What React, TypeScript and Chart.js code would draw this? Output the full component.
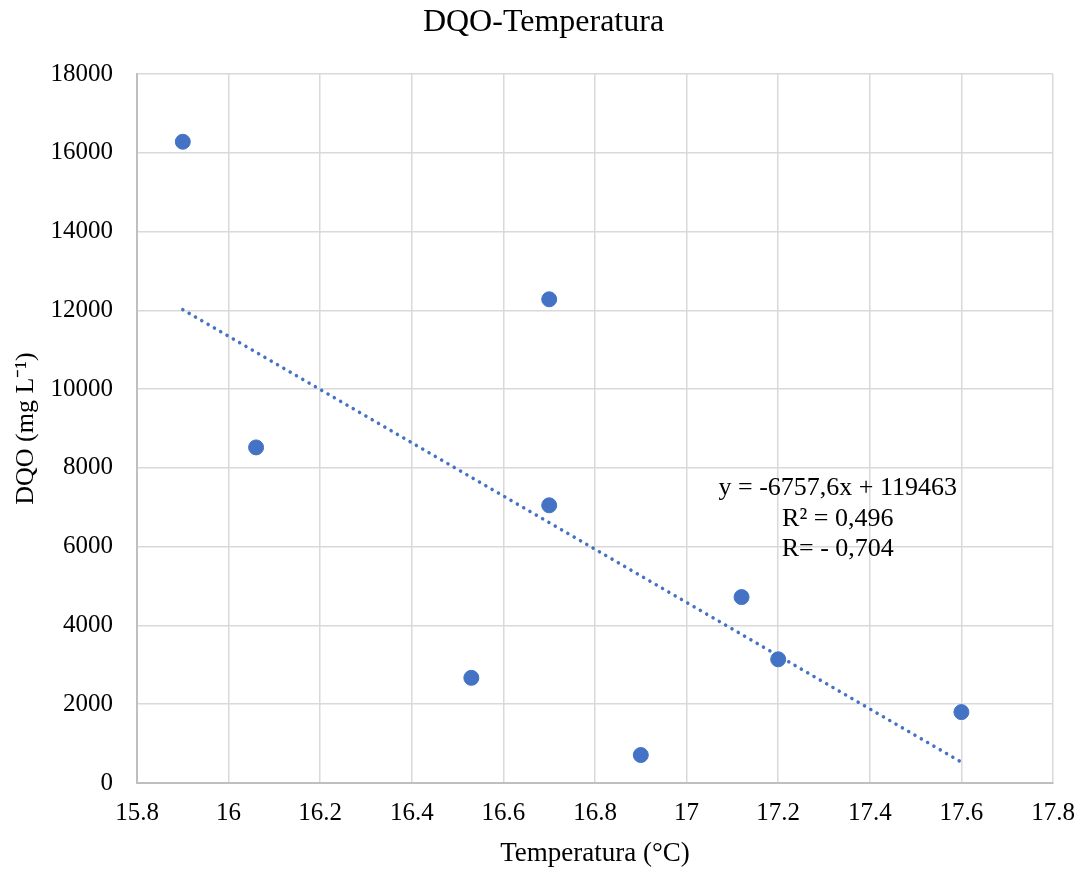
import React, { useEffect, useRef } from "react";
import { Chart, registerables } from "chart.js";

Chart.register(...registerables);

const temperatures = [15.9, 16.06, 16.53, 16.7, 16.7, 16.9, 17.12, 17.2, 17.6];
const dqoValues = [16280, 8520, 2670, 12280, 7050, 710, 4720, 3140, 1800];
const trendX = [15.9, 17.6];
const slope = -6757.6;
const intercept = 119463;
const annotationLines = ["y = -6757,6x + 119463", "R² = 0,496", "R= - 0,704"];
const annotationAnchor = { x: 17.33, y: 7490, stepY: 780 };

const FONT = "'Liberation Serif', 'Times New Roman', serif";

export default function App() {
  const ref = useRef<HTMLCanvasElement | null>(null);

  useEffect(() => {
    document.body.style.margin = "0";
    const canvas = ref.current;
    if (!canvas) return;

    const annotationPlugin = {
      id: "trendAnnotation",
      afterDatasetsDraw(chart: any) {
        const ctx = chart.ctx;
        const xs = chart.scales.x;
        const ys = chart.scales.y;
        ctx.save();
        ctx.font = `26px ${FONT}`;
        ctx.fillStyle = "#000";
        ctx.textAlign = "center";
        ctx.textBaseline = "middle";
        annotationLines.forEach((line, i) => {
          const px = xs.getPixelForValue(annotationAnchor.x);
          const py = ys.getPixelForValue(annotationAnchor.y - i * annotationAnchor.stepY);
          ctx.fillText(line, px, py);
        });
        ctx.restore();
      },
    };

    const chart = new Chart(canvas, {
      type: "scatter",
      data: {
        datasets: [
          {
            type: "line",
            label: "trend",
            data: trendX.map((x) => ({ x, y: slope * x + intercept })),
            borderColor: "#4472C4",
            borderWidth: 3.5,
            borderDash: [0.1, 7.2],
            borderCapStyle: "round",
            pointRadius: 0,
            fill: false,
          } as any,
          {
            label: "DQO",
            data: temperatures.map((x, i) => ({ x, y: dqoValues[i] })),
            backgroundColor: "#4472C4",
            borderColor: "#4472C4",
            pointRadius: 7.5,
            pointHoverRadius: 7.5,
          },
        ],
      },
      options: {
        animation: false,
        responsive: false,
        layout: { padding: 0 },
        plugins: {
          legend: { display: false },
          tooltip: { enabled: false },
          title: {
            display: true,
            text: "DQO-Temperatura",
            color: "#000",
            font: { family: FONT, size: 32, weight: "normal" },
            padding: { top: 3, bottom: 32.6 },
          },
        },
        scales: {
          x: {
            type: "linear",
            min: 15.8,
            max: 17.8,
            ticks: {
              stepSize: 0.2,
              color: "#000",
              font: { family: FONT, size: 25 },
              padding: 15,
              callback: (v: any) => String(Math.round(Number(v) * 10) / 10),
            },
            grid: { color: "#d9d9d9", lineWidth: 1.5, drawTicks: false },
            border: { color: "#bfbfbf", width: 2 },
            title: {
              display: true,
              text: "Temperatura (°C)",
              color: "#000",
              font: { family: FONT, size: 27 },
              padding: { top: 0, bottom: 0 },
            },
            afterFit: (scale: any) => {
              scale.height = 87;
              scale.paddingRight = 34;
              scale.paddingLeft = 0;
            },
          },
          y: {
            min: 0,
            max: 18000,
            ticks: {
              stepSize: 2000,
              color: "#000",
              font: { family: FONT, size: 25 },
              padding: 24,
              callback: (v: any) => String(v),
            },
            grid: { color: "#d9d9d9", lineWidth: 1.5, drawTicks: false },
            border: { color: "#bfbfbf", width: 2 },
            title: {
              display: true,
              text: "DQO (mg L⁻¹)",
              color: "#000",
              font: { family: FONT, size: 26 },
              padding: { top: 11, bottom: 0 },
            },
            afterFit: (scale: any) => {
              scale.width = 137;
              scale.paddingTop = 0;
              scale.paddingBottom = 0;
            },
          },
        },
      },
      plugins: [annotationPlugin],
    });

    return () => chart.destroy();
  }, []);

  return (
    <div style={{ width: 1087, height: 870 }}>
      <canvas ref={ref} width={1087} height={870} style={{ display: "block" }} />
    </div>
  );
}
